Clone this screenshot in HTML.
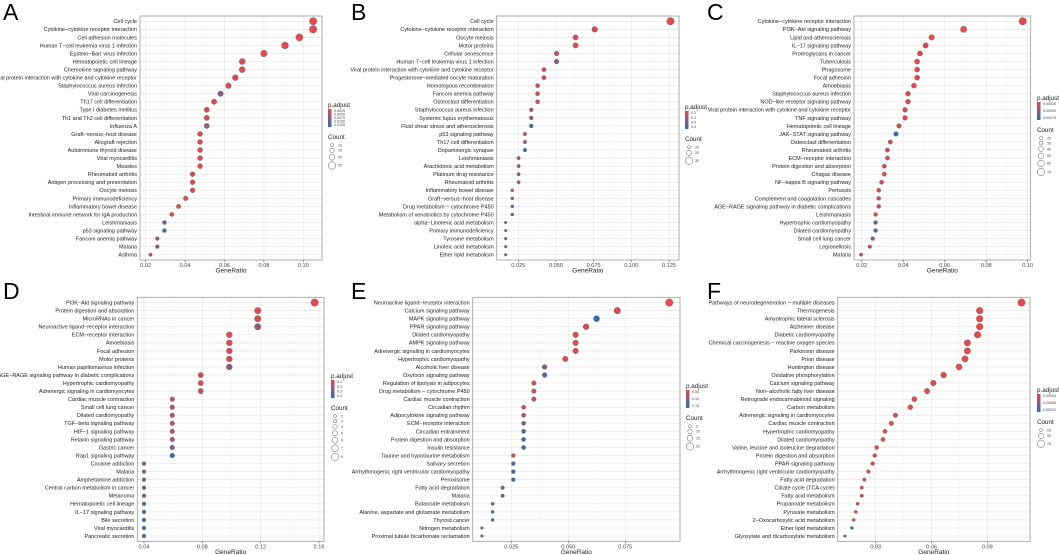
<!DOCTYPE html>
<html><head><meta charset="utf-8">
<style>
html,body{margin:0;padding:0;background:#fff;}
svg{display:block;font-family:"Liberation Sans",sans-serif;}
</style></head>
<body>
<svg id="fig" width="1059" height="555" viewBox="0 0 1059 555" xmlns="http://www.w3.org/2000/svg"></svg>
<script>
// ---------- DATA ----------
const catsA=["Cell cycle","Cytokine−cytokine receptor interaction","Cell adhesion molecules","Human T−cell leukemia virus 1 infection","Epstein−Barr virus infection","Hematopoietic cell lineage","Chemokine signaling pathway","Viral protein interaction with cytokine and cytokine receptor","Staphylococcus aureus infection","Viral carcinogenesis","Th17 cell differentiation","Type I diabetes mellitus","Th1 and Th2 cell differentiation","Influenza A","Graft−versus−host disease","Allograft rejection","Autoimmune thyroid disease","Viral myocarditis","Measles","Rheumatoid arthritis","Antigen processing and presentation","Oocyte meiosis","Primary immunodeficiency","Inflammatory bowel disease","Intestinal immune network for IgA production","Leishmaniasis","p53 signaling pathway","Fanconi anemia pathway","Malaria","Asthma"];
const ratioA=[0.105,0.105,0.098,0.0907,0.080,0.069,0.069,0.0655,0.062,0.058,0.0547,0.051,0.051,0.051,0.0476,0.0476,0.0476,0.0476,0.0476,0.0438,0.0438,0.0438,0.0403,0.0367,0.0332,0.0295,0.0295,0.0259,0.0259,0.0224];
const padjA=[0,0,0,0,0,0.05,0.05,0.05,0.05,0.5,0.05,0.05,0.1,0.45,0.05,0.05,0.05,0.05,0.05,0.05,0.05,0.05,0.05,0.05,0.05,0.6,1.0,0.4,0.6,0.1];
const ticksA=[0.02,0.04,0.06,0.08,0.10];
const tickLabA=["0.02","0.04","0.06","0.08","0.10"];
const legA=["0.0025","0.0050","0.0075","0.0100","0.0125"];
const cntA=["10","15","20","25"];

const catsB=["Cell cycle","Cytokine−cytokine receptor interaction","Oocyte meiosis","Motor proteins","Cellular senescence","Human T−cell leukemia virus 1 infection","Viral protein interaction with cytokine and cytokine receptor","Progesterone−mediated oocyte maturation","Homologous recombination","Fanconi anemia pathway","Osteoclast differentiation","Staphylococcus aureus infection","Systemic lupus erythematosus","Fluid shear stress and atherosclerosis","p53 signaling pathway","Th17 cell differentiation","Dopaminergic synapse","Leishmaniasis","Arachidonic acid metabolism","Platinum drug resistance","Rheumatoid arthritis","Inflammatory bowel disease","Graft−versus−host disease","Drug metabolism − cytochrome P450","Metabolism of xenobiotics by cytochrome P450","alpha−Linolenic acid metabolism","Primary immunodeficiency","Tyrosine metabolism","Linoleic acid metabolism","Ether lipid metabolism"];
const ratioB=[0.126,0.0757,0.063,0.063,0.0504,0.0504,0.042,0.042,0.0378,0.0378,0.0378,0.0336,0.0336,0.0336,0.0294,0.0294,0.0294,0.0252,0.0252,0.0252,0.0252,0.021,0.021,0.021,0.021,0.0166,0.0166,0.0166,0.0166,0.0166];
const padjB=[0,0.05,0.05,0.05,0.1,0.5,0.05,0.05,0.05,0.05,0.2,0.3,0.35,0.9,0.2,0.35,1.0,0.35,0.35,0.4,0.35,0.4,0.4,0.8,0.8,0.4,0.45,0.45,0.45,0.6];
const ticksB=[0.025,0.05,0.075,0.1,0.125];
const tickLabB=["0.025","0.050","0.075","0.100","0.125"];
const legB=["0.1","0.2","0.3","0.4"];
const cntB=["10","20","30"];

const catsC=["Cytokine−cytokine receptor interaction","PI3K−Akt signaling pathway","Lipid and atherosclerosis","IL−17 signaling pathway","Proteoglycans in cancer","Tuberculosis","Phagosome","Focal adhesion","Amoebiasis","Staphylococcus aureus infection","NOD−like receptor signaling pathway","Viral protein interaction with cytokine and cytokine receptor","TNF signaling pathway","Hematopoietic cell lineage","JAK−STAT signaling pathway","Osteoclast differentiation","Rheumatoid arthritis","ECM−receptor interaction","Protein digestion and absorption","Chagas disease","NF−kappa B signaling pathway","Pertussis","Complement and coagulation cascades","AGE−RAGE signaling pathway in diabetic complications","Leishmaniasis","Hypertrophic cardiomyopathy","Dilated cardiomyopathy","Small cell lung cancer","Legionellosis","Malaria"];
const ratioC=[0.0976,0.0691,0.0537,0.0508,0.0481,0.0467,0.0467,0.0467,0.0452,0.0423,0.0423,0.0409,0.0409,0.038,0.0365,0.0338,0.0324,0.0324,0.0309,0.0309,0.0296,0.0282,0.0282,0.0282,0.0267,0.0267,0.0267,0.0253,0.0239,0.0197];
const padjC=[0,0,0,0,0,0,0,0,0,0.05,0.15,0.05,0.05,0.05,1.0,0.05,0.05,0.05,0.05,0.05,0.05,0.05,0.05,0.2,0.1,0.6,0.8,0.6,0.05,0.2];
const ticksC=[0.02,0.04,0.06,0.08,0.10];
const tickLabC=["0.02","0.04","0.06","0.08","0.10"];
const legC=["0.00025","0.00050","0.00075"];
const cntC=["20","30","40","50","60","70"];

const catsD=["PI3K−Akt signaling pathway","Protein digestion and absorption","MicroRNAs in cancer","Neuroactive ligand−receptor interaction","ECM−receptor interaction","Amoebiasis","Focal adhesion","Motor proteins","Human papillomavirus infection","AGE−RAGE signaling pathway in diabetic complications","Hypertrophic cardiomyopathy","Adrenergic signaling in cardiomyocytes","Cardiac muscle contraction","Small cell lung cancer","Dilated cardiomyopathy","TGF−beta signaling pathway","HIF−1 signaling pathway","Relaxin signaling pathway","Gastric cancer","Rap1 signaling pathway","Cocaine addiction","Malaria","Amphetamine addiction","Central carbon metabolism in cancer","Melanoma","Hematopoietic cell lineage","IL−17 signaling pathway","Bile secretion","Viral myocarditis","Pancreatic secretion"];
const ratioD=[0.157,0.118,0.118,0.118,0.0985,0.0985,0.0985,0.0985,0.0985,0.0789,0.0789,0.0789,0.0594,0.0594,0.0594,0.0594,0.0594,0.0594,0.0594,0.0594,0.04,0.04,0.04,0.04,0.04,0.04,0.04,0.04,0.04,0.04];
const padjD=[0,0.05,0.05,0.4,0.05,0.05,0.05,0.05,0.45,0.05,0.05,0.15,0.25,0.3,0.3,0.3,0.3,0.3,0.5,1.0,0.3,0.4,0.5,0.6,0.6,0.8,0.8,0.8,0.8,0.8];
const ticksD=[0.04,0.08,0.12,0.16];
const tickLabD=["0.04","0.08","0.12","0.16"];
const legD=["0.1","0.2","0.3","0.4"];
const cntD=["2","3","4","5","6","7","8"];

const catsE=["Neuroactive ligand−receptor interaction","Calcium signaling pathway","MAPK signaling pathway","PPAR signaling pathway","Dilated cardiomyopathy","AMPK signaling pathway","Adrenergic signaling in cardiomyocytes","Hypertrophic cardiomyopathy","Alcoholic liver disease","Oxytocin signaling pathway","Regulation of lipolysis in adipocytes","Drug metabolism − cytochrome P450","Cardiac muscle contraction","Circadian rhythm","Adipocytokine signaling pathway","ECM−receptor interaction","Circadian entrainment","Protein digestion and absorption","Insulin resistance","Taurine and hypotaurine metabolism","Salivary secretion","Arrhythmogenic right ventricular cardiomyopathy","Peroxisome","Fatty acid degradation","Malaria","Butanoate metabolism","Alanine, aspartate and glutamate metabolism","Thyroid cancer","Nitrogen metabolism","Proximal tubule bicarbonate reclamation"];
const ratioE=[0.0943,0.0715,0.0624,0.0578,0.0532,0.0532,0.0532,0.0487,0.0396,0.0396,0.0349,0.0349,0.0349,0.0304,0.0304,0.0304,0.0304,0.0304,0.0304,0.0259,0.0259,0.0259,0.0259,0.0212,0.0212,0.0168,0.0168,0.0168,0.0121,0.0121];
const padjE=[0,0.05,1.0,0.05,0.05,0.05,0.05,0.05,0.5,0.8,0.1,0.1,0.1,0.1,0.2,0.5,0.75,0.8,0.8,0.05,0.8,0.8,0.9,0.55,0.7,0.4,0.75,0.75,0.7,0.75];
const ticksE=[0.025,0.05,0.075];
const tickLabE=["0.025","0.050","0.075"];
const legE=["0.05","0.10","0.15"];
const cntE=["5","10","15","20"];

const catsF=["Pathways of neurodegeneration − multiple diseases","Thermogenesis","Amyotrophic lateral sclerosis","Alzheimer disease","Diabetic cardiomyopathy","Chemical carcinogenesis − reactive oxygen species","Parkinson disease","Prion disease","Huntington disease","Oxidative phosphorylation","Calcium signaling pathway","Non−alcoholic fatty liver disease","Retrograde endocannabinoid signaling","Carbon metabolism","Adrenergic signaling in cardiomyocytes","Cardiac muscle contraction","Hypertrophic cardiomyopathy","Dilated cardiomyopathy","Valine, leucine and isoleucine degradation","Protein digestion and absorption","PPAR signaling pathway","Arrhythmogenic right ventricular cardiomyopathy","Fatty acid degradation","Citrate cycle (TCA cycle)","Fatty acid metabolism","Propanoate metabolism","Pyruvate metabolism","2−Oxocarboxylic acid metabolism","Ether lipid metabolism","Glyoxylate and dicarboxylate metabolism"];
const ratioF=[0.1084,0.0859,0.0859,0.0859,0.0848,0.0793,0.0793,0.078,0.0748,0.0665,0.061,0.0576,0.0508,0.0486,0.0406,0.0384,0.035,0.0339,0.0305,0.0295,0.0284,0.0261,0.0239,0.0225,0.0225,0.0203,0.0193,0.0182,0.0172,0.0135];
const padjF=[0,0,0,0,0,0,0,0,0,0,0,0,0,0,0,0,0,0,0,0,0,0.05,0,0,0.05,0.05,0,0.05,1.0,0.7];
const ticksF=[0.03,0.06,0.09];
const tickLabF=["0.03","0.06","0.09"];
const legF=["0.00004","0.00008","0.00012"];
const cntF=["25","50","75"];

// ---------- LAYOUT ----------
const panels=[
 {id:"a",letter:"A",lx:3,ly:20,cats:catsA,ratio:ratioA,padj:padjA,ticks:ticksA,tl:tickLabA,leg:legA,cnt:cntA,
  x0:140,x1:322,y0:16,y1:260,v0:0.02,p0:145.7,v1:0.10,p1:303.3,lgx:328,lgy:107},
 {id:"b",letter:"B",lx:351,ly:20,cats:catsB,ratio:ratioB,padj:padjB,ticks:ticksB,tl:tickLabB,leg:legB,cnt:cntB,
  x0:496.7,x1:679,y0:16,y1:260,v0:0.025,p0:518.3,v1:0.125,p1:669,lgx:685,lgy:109},
 {id:"c",letter:"C",lx:707,ly:20,cats:catsC,ratio:ratioC,padj:padjC,ticks:ticksC,tl:tickLabC,leg:legC,cnt:cntC,
  x0:854,x1:1030.7,y0:16,y1:260,v0:0.02,p0:861.7,v1:0.10,p1:1027.7,lgx:1037,lgy:100},
 {id:"d",letter:"D",lx:3,ly:299,cats:catsD,ratio:ratioD,padj:padjD,ticks:ticksD,tl:tickLabD,leg:legD,cnt:cntD,
  x0:137.3,x1:324,y0:297.3,y1:541.3,v0:0.04,p0:144,v1:0.16,p1:319,lgx:331,lgy:378},
 {id:"e",letter:"E",lx:351,ly:299,cats:catsE,ratio:ratioE,padj:padjE,ticks:ticksE,tl:tickLabE,leg:legE,cnt:cntE,
  x0:472.7,x1:680,y0:297.3,y1:541.3,v0:0.025,p0:511.3,v1:0.075,p1:625.3,lgx:686,lgy:388},
 {id:"f",letter:"F",lx:707,ly:299,cats:catsF,ratio:ratioF,padj:padjF,ticks:ticksF,tl:tickLabF,leg:legF,cnt:cntF,
  x0:837.7,x1:1030,y0:297.3,y1:541.3,v0:0.03,p0:875.7,v1:0.09,p1:987.3,lgx:1037,lgy:392}
];

const NS="http://www.w3.org/2000/svg";
const svg=document.getElementById('fig');
function mk(tag,attrs,parent){const e=document.createElementNS(NS,tag);for(const k in attrs)e.setAttribute(k,attrs[k]);(parent||svg).appendChild(e);return e;}
const RED=[232,72,76],BLUE=[40,112,184];
function col(t){const c=RED.map((r,i)=>Math.round(r+(BLUE[i]-r)*t));return `rgb(${c[0]},${c[1]},${c[2]})`;}

panels.forEach(p=>{
  const g=mk('g',{});
  
  
  const xs=v=>p.p0+(v-p.v0)*(p.p1-p.p0)/(p.v1-p.v0);
  const n=p.cats.length;
  const rowTop=p.y0+5.3, rowBot=p.y1-5.3;
  const ys=i=>rowTop+i*(rowBot-rowTop)/(n-1);
  const lt=mk('text',{x:p.lx,y:p.ly,'font-size':23},g);lt.textContent=p.letter;
  
  
  mk('rect',{x:p.x0,y:p.y0,width:p.x1-p.x0,height:p.y1-p.y0,fill:'#fff'},g);
  for(let k=0;k<p.ticks.length-1;k++){const xm=(xs(p.ticks[k])+xs(p.ticks[k+1]))/2;mk('line',{x1:xm,x2:xm,y1:p.y0,y2:p.y1,stroke:'#f2f2f2','stroke-width':0.5},g);}
  p.ticks.forEach(t=>mk('line',{x1:xs(t),x2:xs(t),y1:p.y0,y2:p.y1,stroke:'#e6e6e6','stroke-width':0.7},g));
  for(let i=0;i<n;i++) mk('line',{x1:p.x0,x2:p.x1,y1:ys(i),y2:ys(i),stroke:'#e6e6e6','stroke-width':0.7},g);
  const box=mk('rect',{x:p.x0,y:p.y0,width:p.x1-p.x0,height:p.y1-p.y0,fill:'none',stroke:'#9a9a9a','stroke-width':0.8},g);
  
  
  const vmax=Math.max(...p.ratio);
  for(let i=0;i<n;i++){
    const t=mk('text',{x:p.x0-3,y:ys(i)+1.9,'font-size':5.5,'text-anchor':'end',fill:'#222'},g);
    t.textContent=p.cats[i];
    
    
    const r=3.7*Math.sqrt(p.ratio[i]/vmax);
    const c=mk('circle',{cx:xs(p.ratio[i]),cy:ys(i),r:r,fill:col(p.padj[i]),stroke:'#555','stroke-width':0.4},g);
    
    
  }
  p.ticks.forEach((t,k)=>{
    mk('line',{x1:xs(t),x2:xs(t),y1:p.y1,y2:p.y1+2,stroke:'#555','stroke-width':0.6},g);
    const tx=mk('text',{x:xs(t),y:p.y1+7,'font-size':5.6,'text-anchor':'middle',fill:'#444'},g);
    tx.textContent=p.tl[k];
    
    
  });
  const xt=mk('text',{x:(p.x0+p.x1)/2,y:p.y1+12.5,'font-size':6.5,'text-anchor':'middle',fill:'#222'},g);
  xt.textContent='GeneRatio';
  
  
  const lg=mk('g',{},g);
  
  
  const pt=mk('text',{x:p.lgx,y:p.lgy,'font-size':6.3,fill:'#222'},lg);pt.textContent='p.adjust';
  
  
  const gid='grad'+p.id;
  const defs=mk('defs',{},lg);
  const lgd=mk('linearGradient',{id:gid,x1:0,y1:0,x2:0,y2:1},defs);
  mk('stop',{offset:'0%','stop-color':col(0)},lgd);mk('stop',{offset:'100%','stop-color':col(1)},lgd);
  const bh=18;
  mk('rect',{x:p.lgx,y:p.lgy+2,width:3.5,height:bh,fill:`url(#${gid})`},lg);
  p.leg.forEach((s,k)=>{const yy=p.lgy+4+k*(bh-4)/Math.max(1,p.leg.length-1);
    const lt2=mk('text',{x:p.lgx+6,y:yy+1.2,'font-size':3.6,fill:'#444'},lg);lt2.textContent=s;
    
    });
  const cy0=p.lgy+bh+14;
  const ct=mk('text',{x:p.lgx,y:cy0,'font-size':6.3,fill:'#222'},lg);ct.textContent='Count';
  
  
  let yy=cy0+3;
  p.cnt.forEach((s,k)=>{const r=1.5+k*2.2/Math.max(1,p.cnt.length-1);yy+=r+1.6;
    mk('circle',{cx:p.lgx+4,cy:yy,r:r,fill:'#fff',stroke:'#555','stroke-width':0.5},lg);
    const l=mk('text',{x:p.lgx+10,y:yy+1.2,'font-size':3.6,fill:'#444'},lg);l.textContent=s;
    
    
    yy+=r;});
});
</script>
</body></html>
